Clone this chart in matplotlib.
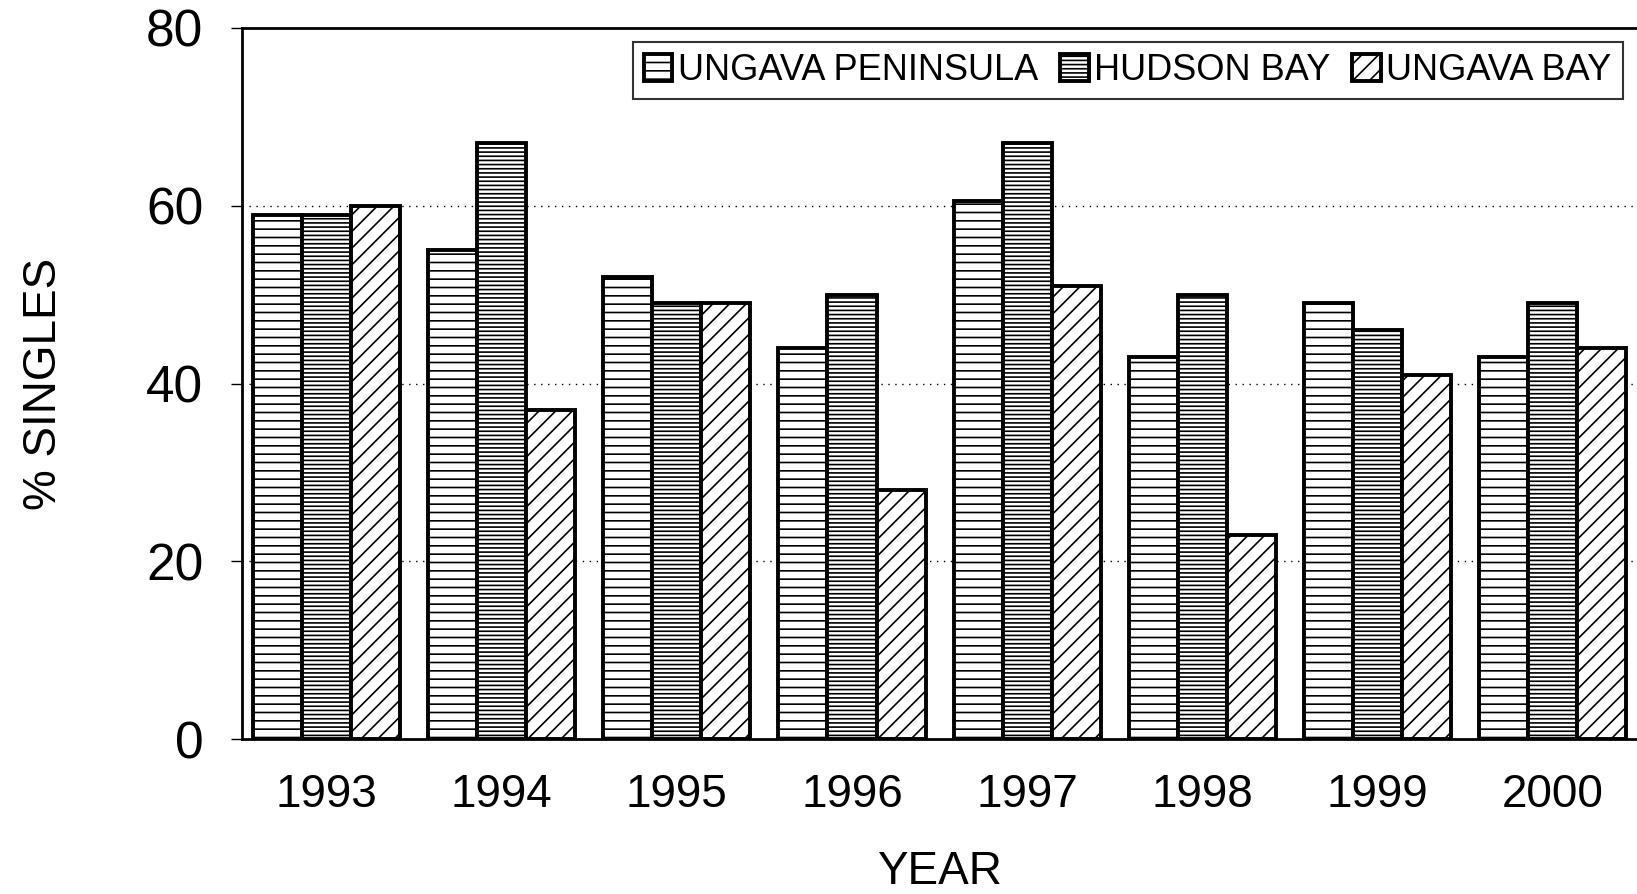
import numpy as np
import matplotlib
matplotlib.use('Agg')
import matplotlib.pyplot as plt

plt.rcParams['font.family'] = ['Liberation Sans', 'DejaVu Sans']
plt.rcParams['hatch.linewidth'] = 1.2

# data
years = ['1993', '1994', '1995', '1996', '1997', '1998', '1999', '2000']
ungava_peninsula = [59, 55, 52, 44, 60.5, 43, 49, 43]
hudson_bay = [59, 67, 49, 50, 67, 50, 46, 49]
ungava_bay = [60, 37, 49, 28, 51, 23, 41, 44]

series = [
    ('UNGAVA PENINSULA', ungava_peninsula, '--'),
    ('HUDSON BAY', hudson_bay, '----'),
    ('UNGAVA BAY', ungava_bay, '//'),
]

fig = plt.figure(figsize=(16.37, 8.94), dpi=100)
ax = fig.add_axes([0.148, 0.173, 0.852, 0.796])

x = np.arange(len(years))
width = 0.28
for i, (name, vals, hatch) in enumerate(series):
    ax.bar(x + (i - 1) * width, vals, width, color='white', edgecolor='black',
           linewidth=2.8, hatch=hatch, label=name, zorder=3)

ax.set_xlim(-0.48, 7.48)
ax.set_ylim(0, 80)
ax.set_yticks([0, 20, 40, 60, 80])
ax.set_xticks(x)
ax.set_xticklabels(years)
ax.tick_params(axis='y', labelsize=37, length=8, width=1, direction='out', pad=20)
ax.tick_params(axis='x', labelsize=33, length=0, pad=24)

for yv in [20, 40, 60]:
    ax.axhline(yv, color='black', linestyle=(0, (1, 4)), linewidth=1, zorder=1)

ax.spines['right'].set_visible(False)
for s in ['left', 'bottom', 'top']:
    ax.spines[s].set_linewidth(2)

ax.set_ylabel('% SINGLES', fontsize=33, labelpad=58)
ax.set_xlabel('YEAR', fontsize=33, labelpad=24)

leg = ax.legend(loc='upper right', ncol=3, fontsize=26, frameon=True, fancybox=False,
                edgecolor='black', handlelength=0.8, handleheight=0.8,
                handletextpad=0.15, columnspacing=0.6, borderpad=0.3,
                borderaxespad=0.4)
leg.get_frame().set_linewidth(1.5)

fig.savefig('out.png', dpi=100)
